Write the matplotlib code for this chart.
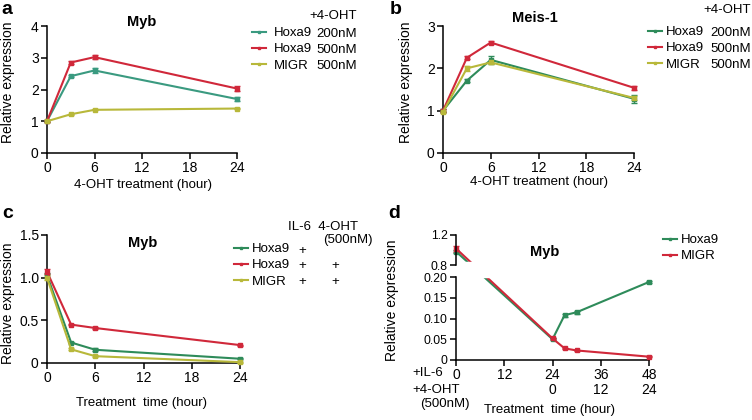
import numpy as np
import matplotlib
matplotlib.use('Agg')
import matplotlib.pyplot as plt

plt.rcParams['font.family'] = ['Liberation Sans', 'DejaVu Sans']
plt.rcParams['font.size'] = 9

GREEN = '#2e8b5a'
GREEN_A = '#3a9a80'
RED = '#d0283a'
YELLOW = '#b8b83a'

FS = 9.5      # labels / legend
TFS = 10      # tick labels

# ---- panel a: Myb, +4-OHT ----
a_time = [0, 3, 6, 24]
a_h200 = [1.0, 2.42, 2.6, 1.7]
a_h200_err = [0.03, 0.04, 0.08, 0.07]
a_h500 = [1.0, 2.85, 3.02, 2.03]
a_h500_err = [0.03, 0.04, 0.06, 0.08]
a_migr = [1.0, 1.22, 1.36, 1.4]
a_migr_err = [0.03, 0.02, 0.02, 0.02]

# ---- panel b: Meis-1, +4-OHT ----
b_time = [0, 3, 6, 24]
b_h200 = [1.0, 1.71, 2.2, 1.28]
b_h200_err = [0.03, 0.04, 0.1, 0.1]
b_h500 = [1.0, 2.25, 2.61, 1.54]
b_h500_err = [0.03, 0.04, 0.04, 0.05]
b_migr = [0.97, 2.0, 2.14, 1.3]
b_migr_err = [0.03, 0.06, 0.04, 0.04]

# ---- panel c: Myb, IL-6 +/- 4-OHT ----
c_time = [0, 3, 6, 24]
c_h9 = [1.03, 0.24, 0.155, 0.05]
c_h9_oht = [1.07, 0.45, 0.41, 0.21]
c_migr = [1.0, 0.16, 0.08, 0.01]
c_err = [0.03, 0.01, 0.015, 0.005]

# ---- panel d: Myb, IL-6 then 4-OHT ----
d_time = [0, 24, 27, 30, 48]
d_h9 = [0.98, 0.05, 0.108, 0.115, 0.188]
d_h9_err = [0.02, 0.003, 0.004, 0.004, 0.002]
d_migr = [1.02, 0.052, 0.028, 0.023, 0.008]
d_migr_err = [0.04, 0.002, 0.002, 0.002, 0.001]
d_il6_ticks = [0, 12, 24, 36, 48]
d_oht_pos = [24, 36, 48]
d_oht_labels = ['0', '12', '24']

W, H = 752, 420
fig = plt.figure(figsize=(W / 100, H / 100), dpi=100)


def rect(x0, x1, ytop, ybot):
    return [x0 / W, 1 - ybot / H, (x1 - x0) / W, (ybot - ytop) / H]


def fx(px):
    return px / W


def fy(py):
    return 1 - py / H


def txt(x, y, s, ha='center', **kw):
    kw.setdefault('fontsize', FS)
    fig.text(fx(x), fy(y), s, ha=ha, va='center', **kw)


def style(ax):
    for s in ['top', 'right']:
        ax.spines[s].set_visible(False)
    for s in ['left', 'bottom']:
        ax.spines[s].set_linewidth(1.1)
    ax.tick_params(direction='out', length=4, width=1.1, labelsize=TFS, pad=2)


def series(ax, x, y, err, color, lw=1.5):
    ax.errorbar(x, y, yerr=err, color=color, lw=lw, marker='s', ms=2.5,
                capsize=2, elinewidth=1, capthick=1, clip_on=False, zorder=4)


def row_legend(ax, handles, labels, x, y, pad=0.6):
    ax.legend(handles, labels, loc='upper left', frameon=False,
              bbox_to_anchor=(fx(x), fy(y)), bbox_transform=fig.transFigure,
              borderpad=0, borderaxespad=0, handlelength=1.05,
              handletextpad=pad, labelspacing=0.3, fontsize=FS)


def handle(color):
    return plt.Line2D([], [], color=color, lw=1.5, marker='s', ms=2)


def ylab(ax, x, y):
    ax.set_ylabel('Relative expression', fontsize=FS + 0.5)
    ax.yaxis.set_label_coords(fx(x), fy(y), transform=fig.transFigure)


# panel a
ax = fig.add_axes(rect(47, 237, 26, 153))
style(ax)
series(ax, a_time, a_h200, a_h200_err, GREEN_A)
series(ax, a_time, a_h500, a_h500_err, RED)
series(ax, a_time, a_migr, a_migr_err, YELLOW)
ax.set_xlim(0, 24)
ax.set_ylim(0, 4)
ax.set_xticks([0, 6, 12, 18, 24])
ax.set_yticks([0, 1, 2, 3, 4])
ylab(ax, 15, 82)
txt(143, 185, '4-OHT treatment (hour)')
txt(142, 22, 'Myb', fontsize=10.5, fontweight='bold')
row_legend(ax, [handle(GREEN_A), handle(RED), handle(YELLOW)],
           ['Hoxa9', 'Hoxa9', 'MIGR'], 252, 27)
txt(357, 16, '+4-OHT', ha='right')
for i, t in enumerate(['200nM', '500nM', '500nM']):
    txt(357, 34 + 16 * i, t, ha='right')
txt(1, 9, 'a', ha='left', fontsize=14, fontweight='bold')

# panel b
ax = fig.add_axes(rect(443, 634, 26, 153))
style(ax)
series(ax, b_time, b_h200, b_h200_err, GREEN)
series(ax, b_time, b_h500, b_h500_err, RED)
series(ax, b_time, b_migr, b_migr_err, YELLOW)
ax.set_xlim(0, 24)
ax.set_ylim(0, 3)
ax.set_xticks([0, 6, 12, 18, 24])
ax.set_yticks([0, 1, 2, 3])
ylab(ax, 413, 82)
txt(539, 182, '4-OHT treatment (hour)')
txt(535, 18, 'Meis-1', fontsize=10.5, fontweight='bold')
row_legend(ax, [handle(GREEN), handle(RED), handle(YELLOW)],
           ['Hoxa9', 'Hoxa9', 'MIGR'], 648, 26, pad=0.3)
txt(751, 10, '+4-OHT', ha='right')
for i, t in enumerate(['200nM', '500nM', '500nM']):
    txt(751, 33 + 16 * i, t, ha='right')
txt(390, 10, 'b', ha='left', fontsize=14, fontweight='bold')

# panel c
ax = fig.add_axes(rect(47, 240, 235, 363))
style(ax)
series(ax, c_time, c_h9, c_err, GREEN)
series(ax, c_time, c_h9_oht, c_err, RED)
series(ax, c_time, c_migr, c_err, YELLOW)
ax.set_xlim(0, 24)
ax.set_ylim(0, 1.5)
ax.set_xticks([0, 6, 12, 18, 24])
ax.set_yticks([0, 0.5, 1.0, 1.5])
ax.set_yticklabels(['0', '0.5', '1.0', '1.5'])
ylab(ax, 15, 303)
txt(142, 403, 'Treatment  time (hour)')
txt(143, 243, 'Myb', fontsize=10.5, fontweight='bold')
row_legend(ax, [handle(GREEN), handle(RED), handle(YELLOW)],
           ['Hoxa9', 'Hoxa9', 'MIGR'], 234, 243, pad=0.3)
txt(288, 227, 'IL-6  4-OHT', ha='left')
txt(373, 240, '(500nM)', ha='right')
for i, (il6, oht) in enumerate([('+', ''), ('+', '+'), ('+', '+')]):
    txt(302, 251 + 15.5 * i, il6)
    txt(335, 251 + 15.5 * i, oht)
txt(2, 213, 'c', ha='left', fontsize=14, fontweight='bold')


# panel d: broken y axis via a piecewise scale
def fwd(y):
    y = np.asarray(y, dtype=float)
    return np.where(y <= 0.2, y * 415,
                    np.where(y < 0.8, 83 + (y - 0.2) / 0.6 * 12, 95 + (y - 0.8) * 75))


def inv(z):
    z = np.asarray(z, dtype=float)
    return np.where(z <= 83, z / 415,
                    np.where(z < 95, 0.2 + (z - 83) / 12 * 0.6, 0.8 + (z - 95) / 75))


ax = fig.add_axes(rect(456, 649, 235, 360))
style(ax)
ax.set_yscale('function', functions=(fwd, inv))
series(ax, d_time, d_h9, d_h9_err, GREEN)
series(ax, d_time, d_migr, d_migr_err, RED)
ax.axhspan(0.203, 0.84, xmin=0.02, xmax=0.25, color='white', zorder=6)
ax.set_xlim(0, 48)
ax.set_ylim(0, 1.2)
ax.spines['left'].set_bounds(0, 0.2)
ax.plot([0, 0], [0.8, 1.2], transform=ax.get_yaxis_transform(), color='black',
        lw=1.1, clip_on=False, zorder=7)
ax.set_yticks([0, 0.05, 0.1, 0.15, 0.2, 0.8, 1.2])
ax.set_yticklabels(['0', '0.05', '0.10', '0.15', '0.20', '0.8', '1.2'])
ax.tick_params(axis='y', labelsize=8.8)
ax.set_xticks(d_il6_ticks)
for p, t in zip(d_oht_pos, d_oht_labels):
    ax.text(p, -0.24, t, transform=ax.get_xaxis_transform(), ha='center', va='center',
            fontsize=TFS)
ylab(ax, 399, 300)
txt(545, 252, 'Myb', fontsize=10.5, fontweight='bold')
row_legend(ax, [handle(GREEN), handle(RED)], ['Hoxa9', 'MIGR'], 663, 234, pad=0.3)
txt(412, 373, '+IL-6', ha='left')
txt(412, 390, '+4-OHT', ha='left')
txt(420, 404, '(500nM)', ha='left')
txt(549, 410, 'Treatment  time (hour)')
txt(388, 213, 'd', ha='left', fontsize=14, fontweight='bold')

fig.savefig('out.png', dpi=100)
